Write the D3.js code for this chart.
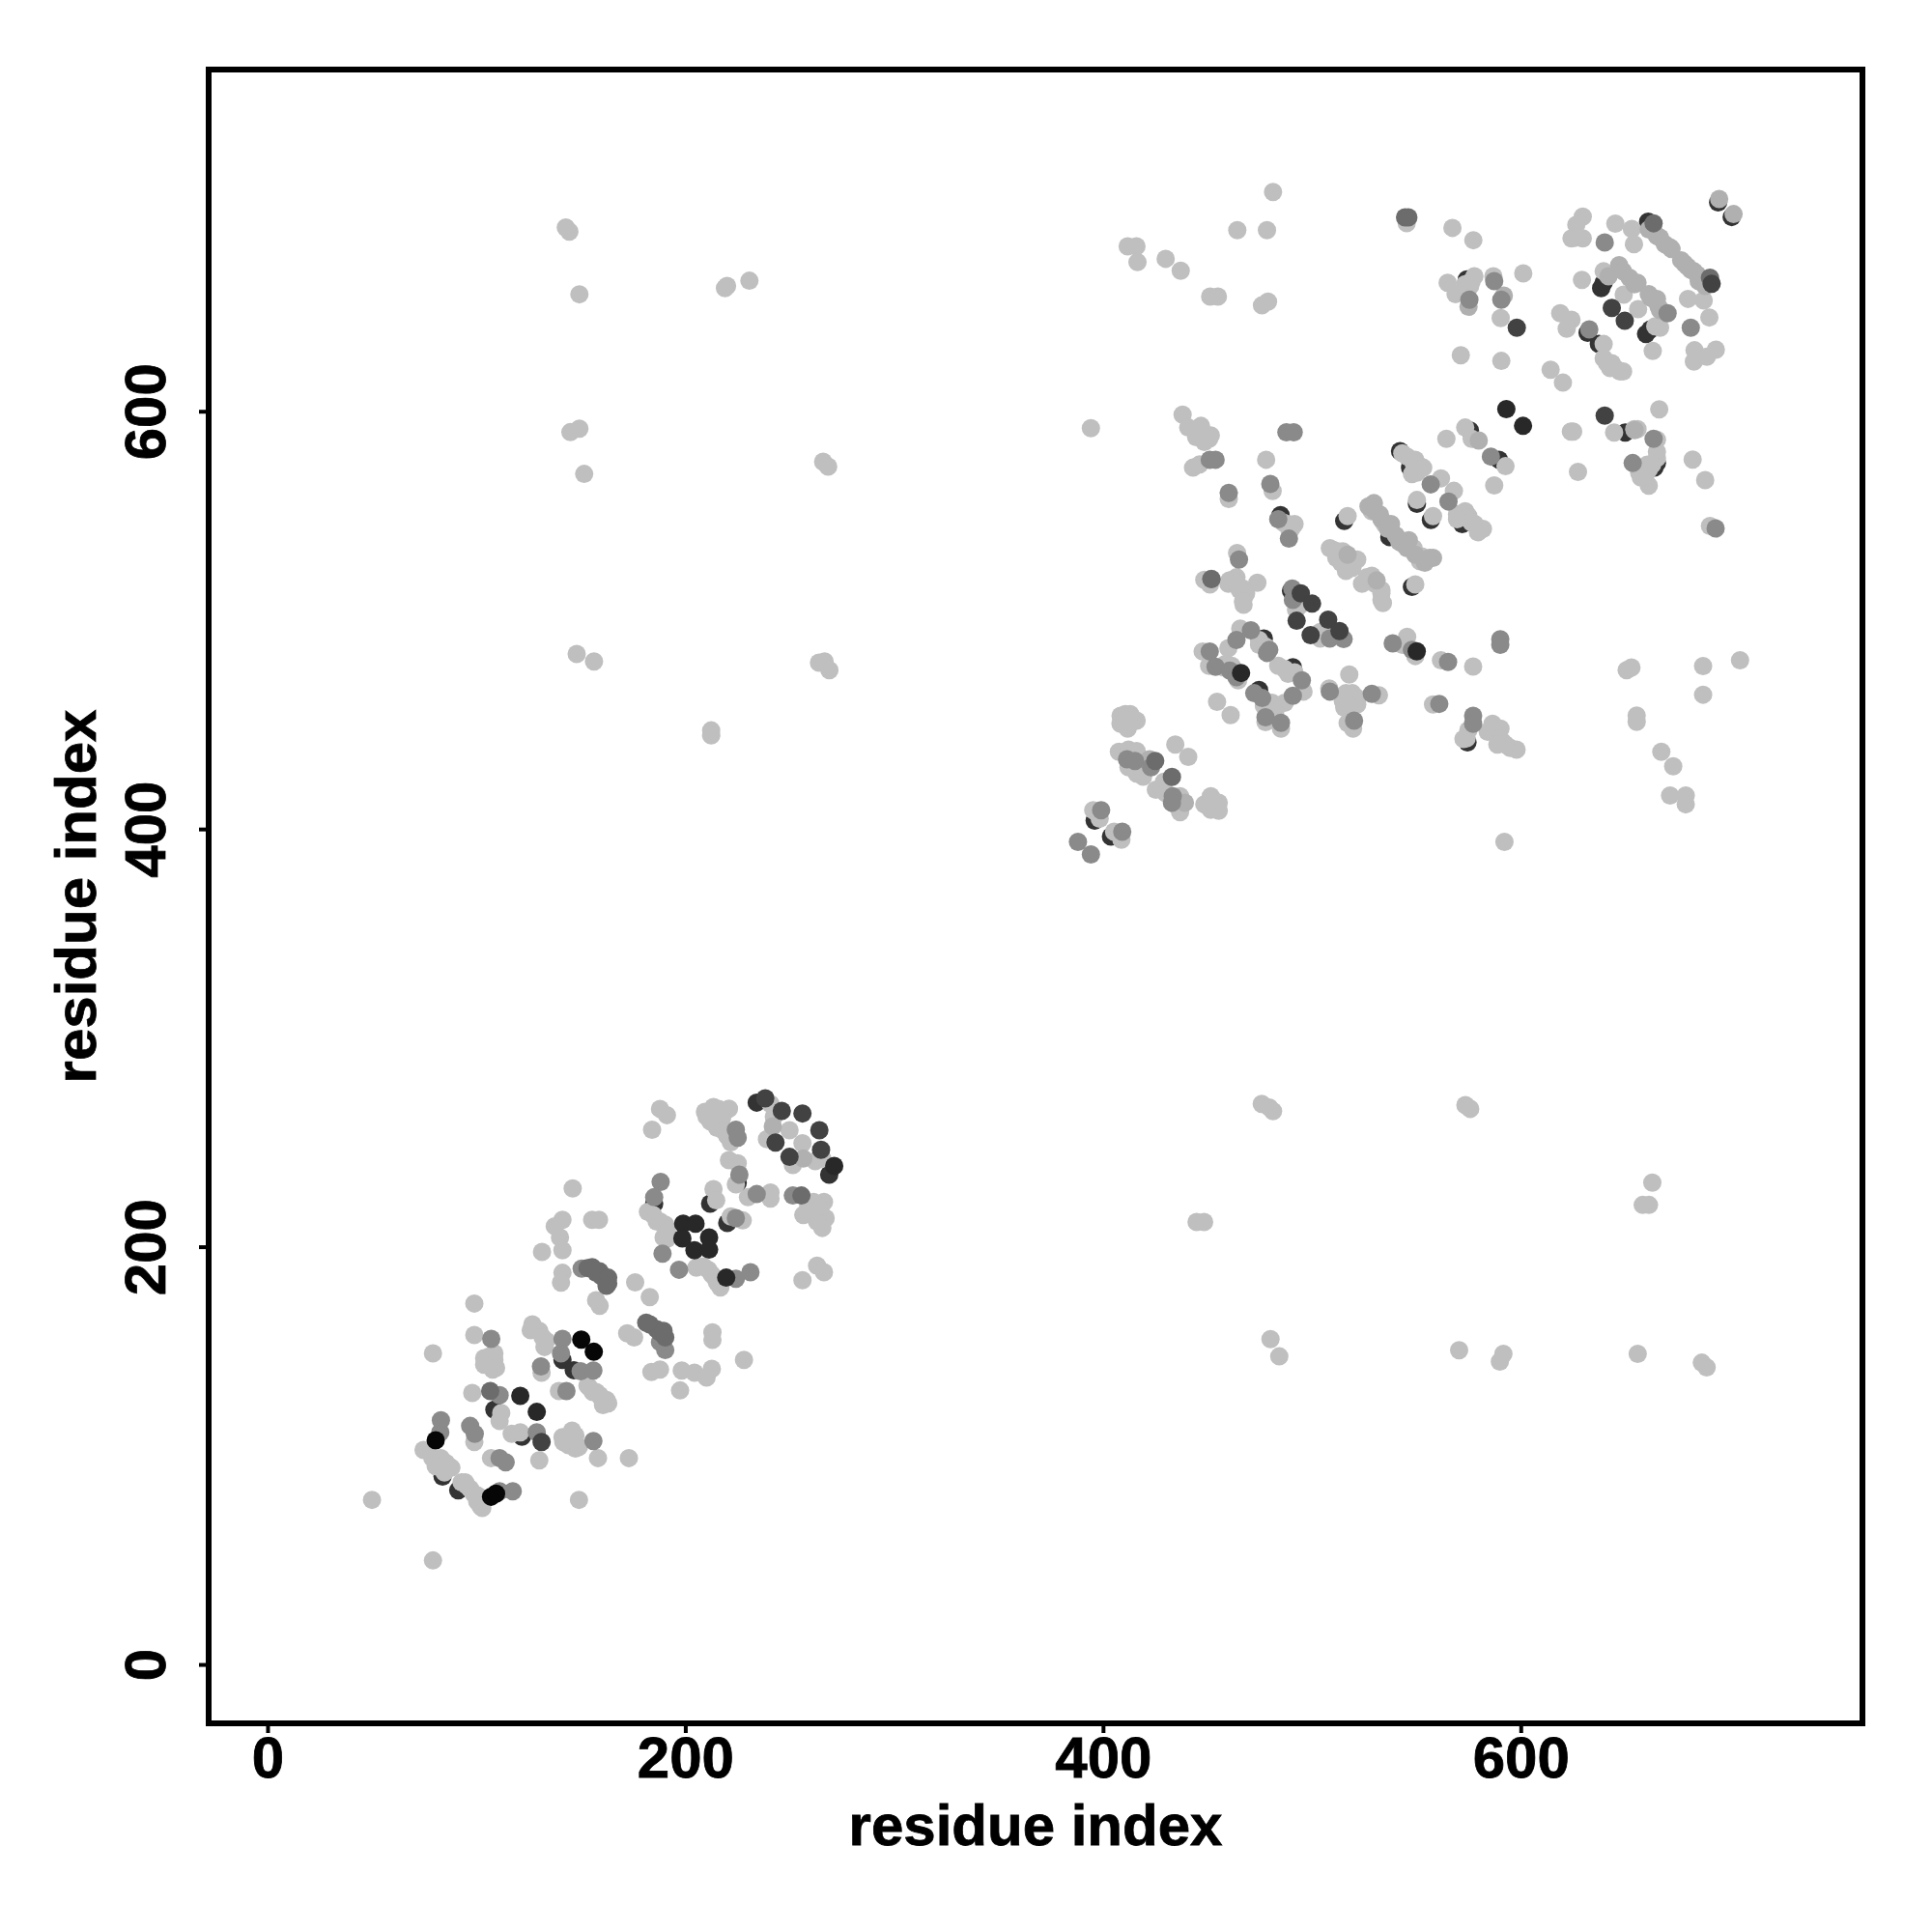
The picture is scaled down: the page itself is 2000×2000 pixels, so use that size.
<!DOCTYPE html>
<html><head><meta charset="utf-8">
<script src="https://cdnjs.cloudflare.com/ajax/libs/d3/7.8.5/d3.min.js"></script>
<style>html,body{margin:0;padding:0;background:#fff}svg{display:block}</style>
</head><body><svg id="c" width="2000" height="2000"></svg>
<script>
const tickValues=[0,200,400,600];
const axisTitle="residue index";
// contacts as [residue x, residue y], grouped by grey level, listed in drawing order
const underDark=[[91.3,83.4],[83.8,90],[211.9,220.6],[234.2,269],[268.9,234.5],[225.1,230.6],[220.1,211.4],[185.1,220.6],[141.2,145.8],[146.6,140.9],[121.8,109],[108.6,122],[537.1,539.8],[542.2,580.9],[547,573],[550.3,555.7],[557,548],[571.8,550.6],[572,546],[575.7,590.7],[589.6,576.8],[485,550.3],[515.5,547.5],[547.9,515.9],[477,491.2],[490.9,477.4],[474.7,466.6],[396,404],[403.8,396.4],[574.5,441.5],[574.2,663.1],[632,637.6],[637.4,632.2],[639.7,661.5],[638.5,659],[661,690.8],[662.1,639.2],[660,637],[650,589.8],[665.2,575.2],[664,573],[694.5,700],[701,693],[490,514]];
const light=[[187.9,266],[191.2,263],[184.1,256],[209.4,264.6],[213.5,266.9],[220.9,266.1],[211.9,260],[215.2,256.9],[217.6,261.5],[220.1,253],[221.8,250],[218.5,255.3],[213.5,262.3],[210.2,262.3],[216,266],[240.8,268.4],[242.4,262.3],[249.9,255.8],[239.1,251.5],[256.1,249.5],[251.5,239.1],[265.6,242.2],[262.2,241],[220.9,241.4],[225.1,239.9],[224.2,229.9],[230,223.7],[240.8,223],[240.8,226],[213.5,227.6],[214.8,222.2],[258.9,219.9],[266.4,221.4],[262.2,216],[267.2,213.7],[265.6,209],[256.5,215.2],[261.4,221.4],[264.7,218.3],[258.1,216.8],[263.1,212.1],[260.6,215.2],[221.8,214.5],[227.5,212.6],[182.1,216.7],[186.3,212.1],[190.4,210.6],[189.6,204.4],[184.6,215.2],[187.9,212.1],[191.2,207.5],[191.2,203.7],[205.3,190],[211,189],[214.3,185],[216.8,180.5],[208.6,190.6],[212.7,186.7],[215.2,182.8],[263.1,190.9],[266.4,187.8],[256.1,184],[146.1,227.9],[141.2,212.9],[137.5,209.8],[140,204.4],[141.2,198.3],[131.4,197.5],[155.4,212.9],[158.7,212.9],[141.2,187.5],[140.5,182.8],[176,182.9],[183,175.9],[157.3,174.4],[159,171.7],[99,172.8],[126.8,162.8],[130.1,159.7],[133.4,155],[126,160],[128.4,160.5],[131.7,156.6],[132.6,152],[131.2,139.7],[172.2,158.5],[175.5,156.6],[213,159],[213,155.4],[228.1,145.8],[187.9,141.2],[183.8,140],[198.3,140.7],[204.4,139.7],[212.7,141.5],[210.2,137.4],[197.5,131.2],[99,157.7],[79.2,148.9],[103.7,146.6],[108.6,145.8],[107.8,141.2],[106.1,147.4],[108.6,148.9],[109.4,142],[103.7,143.5],[98,130],[111.9,120.4],[111.1,116.6],[139.5,130.9],[154,132.7],[157.3,130.4],[162.3,126.6],[159.8,127.5],[155.7,130.4],[159,128.9],[163.1,125],[160.6,124.2],[153.2,133.5],[116.9,110.4],[121,111.1],[99,106.5],[141.2,108.8],[147.4,109.6],[144.1,105],[147.4,103.4],[144.1,108.8],[149.1,104.2],[141.6,106.5],[145.8,111.9],[158.2,98.8],[173,98.8],[130.1,97.7],[107,98.8],[74.7,102.7],[78.9,98.8],[83,98.8],[88,94.2],[84.7,91.9],[80.5,94.9],[85.5,96.5],[92.9,87.2],[95.4,85.7],[94.6,87.2],[97,84.1],[98.7,81.8],[100.4,81],[100.4,78],[102,75.7],[102.8,74.9],[50,78.8],[149.1,78.8],[79.2,49.8],
[394.2,591.9],[438.1,598.4],[440.8,592.2],[447.7,589.9],[450.8,586.8],[444.6,587.6],[446.9,593],[451.6,588.4],[448.5,585.3],[443.1,573],[446.2,574.5],[478.1,576.8],[481.2,561.8],[460.2,558],[488.6,546],[491.7,546],[489.3,542.9],[486.3,546.7],[490.1,543.7],[464.2,532.1],[448.5,519.3],[451.2,517.1],[460.5,519],[463.9,520.5],[473.9,517.9],[467,515.1],[467.7,511.3],[467.3,507.4],[460,517.4],[463.1,519],[465.4,514.4],[468.5,512.8],[467,508.9],[463.9,517.4],[494.7,507.4],[492.4,505.1],[494.7,509.7],[492.4,508.2],[504,494.3],[507.8,495.8],[504,491.2],[506.3,494.3],[517.1,549.8],[510.2,533.6],[514.8,532.9],[521.7,529],[511.7,529.8],[516.3,523.6],[508.6,534.4],[512.5,532.9],[514,527.5],[519.4,525.1],[524,517.4],[528.7,521.3],[533.3,512.8],[533.3,509.7],[526.3,520.5],[530.2,517.4],[533.3,514.4],[534,508.2],[528.7,552.1],[534.8,546],[544.1,536],[548.7,534.4],[552.6,530.5],[551.8,528.2],[549.5,517.1],[543.3,579.9],[548.7,575.3],[551.8,573.7],[550.3,570.6],[545.6,578.3],[549.5,576.8],[553.3,573],[547.9,569.9],[561.8,567.9],[550.3,557.5],[558,549.8],[568,561.9],[569.5,550.6],[574.9,549.8],[578,546],[580.3,542.9],[573.4,552.1],[576.5,546.7],[579.5,542.1],[569.5,548.3],[581.9,543.7],[564.4,586.8],[573.4,592.2],[576.5,586.8],[592.7,573.7],[587.3,564.5],[592.2,393.8],
[465.7,495.9],[460,486.6],[474.7,490.5],[477.8,487.4],[474.7,488.2],[447.7,485],[450.8,478.1],[458.5,478.9],[457.7,477.4],[461.6,478.1],[464.7,471.2],[487,476.6],[491.7,475],[483.9,478.1],[488.6,474.3],[496,465.8],[487,460.4],[479.3,458.1],[477,458.9],[480.9,460.4],[482.4,455.8],[477.8,451.2],[485.2,448.1],[454.6,460.9],[461.1,454.5],[517.9,474],[508.3,467.3],[516.3,465],[518.6,461.2],[521.7,462.7],[514.8,461.2],[519.4,465],[521.7,459.6],[515.5,458.1],[532.1,464],[517.9,458.9],[517.1,450.7],[519.7,448.1],[545.6,492],[543.3,488.2],[549.5,482.8],[561.8,480.8],[577.2,477.8],[558,459.6],[574.9,447.3],[574.1,443.4],[572.6,443.1],[586.5,450.4],[590.3,448.1],[584.2,446.5],[591.1,441.9],[595,438.8],[598,438],[587.3,446.5],[589.6,443.4],[592.7,440.4],[588.8,440.4],[410.7,455],[413,455],[408.4,454.2],[416.1,451.9],[408.4,450.4],[411.8,448.1],[409.9,451.2],[413.8,451.2],[434.6,440.4],[440.8,434.5],[407.6,437],[412.2,438],[416.1,437.3],[419.2,432.6],[412.2,429.6],[420.7,428.8],[416.1,426.5],[419.2,425],[425.3,418.8],[429.2,422.6],[428.4,418.8],[430,417.2],[436.9,415.7],[437.7,411.8],[436.9,408],[435.4,411],[448.5,411.8],[451.6,415.7],[455.4,412.6],[451.6,409.2],[455.4,408.7],[453.1,412.6],[450,411],[395.3,409],[398.4,404.9],[405.3,398.7],[408.8,394.9],
[545.4,690.1],[567.3,687.8],[577.3,681.9],[565,661.5],[568.8,656.1],[577.8,664.6],[575.8,660],[573.4,660.8],[576.5,662.3],[586.9,664.6],[601.2,666],[590.4,644.6],[571.3,626.8],[590.7,624.1],[614.3,619.9],[620.2,613.7],[618.9,646.9],[624.3,643.8],[622,639.5],[639.7,632.2],[641.3,623],[645.1,620.7],[647.5,619.1],[639.7,625.3],[643.6,623],[642.8,620.7],[649,619.1],[656.2,648.9],[649.3,655.8],[625.9,683.1],[629.7,693.2],[626.6,689.3],[629.7,682.8],[624.3,682.8],[645.3,689.8],[653.2,687.3],[654.2,680],[629.3,662.9],[639.7,667],[666.7,640],[664.4,640.7],[680.1,653.8],[687.6,653.1],[690.3,644.9],[663.2,628.9],[683.2,629.2],[682.9,623.8],[689.1,626.1],[693.4,629.5],[666.3,600.9],[624,590.3],[625.1,590.3],[644.7,589.8],[654.4,591.4],[655.9,591.4],[665.2,586.4],[665.2,577.5],[665.2,580.6],[656.7,570.6],[661.3,564.4],[660.6,574.4],[659.8,569.8],[657.5,568.3],[661.3,572.1],[662.9,574.4],[682.3,576.9],[688.3,567],[627.4,571],[690.6,545.1],
[481.4,705],[464.3,686.7],[478.5,686.7],[411.8,679],[416,679],[416.5,671.4],[430,673],[437.2,667.3],[451.3,654.9],[455,654.9],[476.1,650.7],[479,652.5],[142.8,688],[144.5,686],[149.3,656],[220,660],[219,659],[230.7,662.5],[145,590],[149.3,591.7],[151.6,570],[266,575.8],[268.4,573.5],[148,483.8],[156.3,480.2],[264,479.6],[266.7,480.2],[269,476],[212.4,447.2],[212.4,444.8],[650.7,476],[653,477.3],[655.5,454.3],[655.5,451.3],[667.3,437],[673,430],[671.5,416],[679,416],[679,411.8],[687.3,478],[687.3,464.3],[705,480.8],[476,268.4],[479.6,266.7],[481.4,264.9],[573.5,267.8],[575.8,266],[663,230.7],[658.4,220],[661.4,220],[444.8,211.8],[448.4,211.8],[480.2,155.8],[484.4,147.5],[570.5,150.4],[590,145],[591.7,148.7],[656,148.7],[686.7,144.5],[689,142.2]];
const pale=[[241.9,257.6],[256.5,242.2],[579.9,586],[529.7,556],[532.5,550.6],[537.9,546],[546.4,538.3],[556.4,529.8],[527.1,554.4],[530.2,552.1],[533.3,548.3],[536.4,543.7],[540.2,540.6],[541.8,537.5],[545.6,534.4],[549.5,531.3],[554.1,527.5],[558,529.8],[517.1,531.3],[531,519],[642,664.6],[647.1,670],[649,667],[652.1,663.9],[654.4,660.8],[655.9,661.5],[671.4,678.5],[661.3,687],[665.2,683.9],[669,680],[672.2,677.7],[676.8,672.3],[679.8,669.3],[682.9,667],[685.2,662.3],[688.3,660],[678.3,670.8],[681.4,667.7],[684.5,665.4],[663.6,686.2],[666.7,683.1],[662.1,654.6],[665.2,653.8],[666,650],[661.3,656.1],[664.4,653.1],[666.7,648.4],[654.5,591],[695,701.6],[701.9,694.4],[591.9,655.4],[575,650],[422.3,433.4],[439.2,412.6]];
const mid=[[224.2,256],[225.1,252.2],[225.9,234.5],[234.2,225.2],[251.5,224.5],[224.2,213.7],[188.2,231],[185.1,223.7],[189.1,196.7],[197,189],[224.2,184.7],[231.2,187.8],[150.4,189.5],[141.2,155.9],[140.5,148.9],[130.9,142.7],[149.9,140.4],[156,140.7],[190.4,150.5],[187.9,154.3],[107.1,155.9],[111.1,128.9],[143.1,130.9],[128.9,111.1],[97,114.2],[99.2,110.4],[83,116.9],[82.7,111.1],[156,107],[111.1,98.8],[114,96.8],[111.1,82.9],[117.4,82.9],
[451.1,576.8],[453.9,576.8],[480.1,565.2],[460.2,560.9],[483.9,548.3],[489,539],[465.1,529],[451.9,519.8],[490.6,515.1],[490.9,509.7],[515.2,490.9],[508.6,491.2],[565.4,556.8],[556.9,565],[585.7,578.3],[470.8,495.1],[463.9,490.5],[479.6,485.8],[478.5,484.3],[451.1,485],[453.9,477.7],[460.8,475.8],[463.9,472.7],[495.2,471.2],[490.9,463.8],[472.4,465],[476.2,462.7],[477.8,453.5],[485.2,450.8],[508.6,465.8],[528.7,464.7],[520.2,451.9],[538.7,488.9],[547.9,485.8],[565.2,480],[561,459.9],[577.2,454.2],[577.2,450.4],[411.5,433.4],[415.3,432.6],[423,429.6],[433.4,415.7],[433,412.6],[399.1,409],[409.2,398.7],[388,393.8],[394.2,387.8],[487.8,589.9],[491.3,589.9],[590.2,490.8],[590.2,488.2],
[575.4,653.4],[587.3,662.3],[590.7,653.4],[632.8,639.2],[640.2,680.8],[670.3,646.9],[681.4,640],[663.6,586.8],[653.6,575.2],[693.3,543.9]];
const midDark=[[106.6,130.9],[155.4,190.2],[159,188.2],[161.5,185.2],[163.1,182.4],[153.2,189.8],[157.3,187.5],[159.8,185.9],[163.1,185.2],[162.3,181.3],[183,162.8],[186.3,160.5],[190.4,156.6],[187.9,159],[181.3,163.6],[189.6,159.7],[255.6,224.5],[663.6,690],[690.6,663.9],[425,432.6],[433,424.9],[451.9,519.6],[544.6,692.8],[546.2,692.8]];
const dark=[[238.3,271],[246.2,265],[256.1,263.8],[264.2,255.8],[243.2,249.9],[249.9,243],[265,246.4],[131.2,106.5],[494.7,512.8],[500.1,507.9],[492.7,499.7],[507.8,500.2],[499.4,492.8],[513.2,494.8],[643.6,649.5],[649.8,643.3],[598.1,640],[640.2,597.9],[691.4,661]];
const nearBlack=[[199,211],[204.9,211],[198.6,204],[211.4,204.4],[204.4,198.3],[211.4,198.6],[121,128.6],[128.9,120.9],[271.3,238.7],[219.6,185.2],[593.1,601],[601.1,593],[466.1,474.7],[550.2,485.1]];
const black=[[150.2,155.5],[156.2,149.7],[80.5,107.3],[107,80.3],[109.4,81.8]];
const layers=[underDark,light,pale,mid,midDark,dark,nearBlack,black];
const greys=["#333333","#bfbfbf","#b0b0b0","#8a8a8a","#6c6c6c","#424242","#282828","#060606"];

const svg=d3.select("#c");
const W={l:216,r:1928,t:72,b:1784};
const x=d3.scaleLinear().domain([-28.2,763.6]).range([W.l,W.r]);
const y=d3.scaleLinear().domain([-28.2,763.6]).range([W.b,W.t]);
const font="'Liberation Sans',Arial,sans-serif";

layers.forEach((pts,i)=>{
  svg.append("g").selectAll("circle").data(pts).join("circle")
    .attr("cx",d=>x(d[0])).attr("cy",d=>y(d[1])).attr("r",9.5).attr("fill",greys[i]);
});

const ax=svg.append("g").attr("transform",`translate(0,${W.b})`)
  .call(d3.axisBottom(x).tickValues(tickValues).tickSize(10).tickPadding(0).tickFormat(d3.format("d")));
ax.select(".domain").remove();
ax.selectAll("line").attr("stroke","#000").attr("stroke-width",4);
ax.selectAll("text").attr("y",0).attr("dy",0).attr("transform","translate(0,56)")
  .attr("font-family",font).attr("font-weight","bold").attr("font-size",60).attr("fill","#000")
  .attr("stroke","#000").attr("stroke-width",0.8);

const ay=svg.append("g").attr("transform",`translate(${W.l},0)`)
  .call(d3.axisLeft(y).tickValues(tickValues).tickSize(10).tickFormat(d3.format("d")));
ay.select(".domain").remove();
ay.selectAll("line").attr("stroke","#000").attr("stroke-width",4);
ay.selectAll("text").attr("x",0).attr("dy",0).attr("text-anchor","middle")
  .attr("transform","translate(-45,0) rotate(-90)")
  .attr("font-family",font).attr("font-weight","bold").attr("font-size",60).attr("fill","#000")
  .attr("stroke","#000").attr("stroke-width",0.8);

svg.append("rect").attr("x",W.l).attr("y",W.t).attr("width",W.r-W.l).attr("height",W.b-W.t)
  .attr("fill","none").attr("stroke","#000").attr("stroke-width",6);

svg.append("text").attr("x",(W.l+W.r)/2).attr("y",1910).attr("text-anchor","middle")
  .attr("font-family",font).attr("font-weight","bold").attr("font-size",60).attr("stroke","#000").attr("stroke-width",0.8).text(axisTitle);
svg.append("text").attr("transform",`translate(99,${(W.t+W.b)/2}) rotate(-90)`).attr("text-anchor","middle")
  .attr("font-family",font).attr("font-weight","bold").attr("font-size",60).attr("stroke","#000").attr("stroke-width",0.8).text(axisTitle);
</script></body></html>
